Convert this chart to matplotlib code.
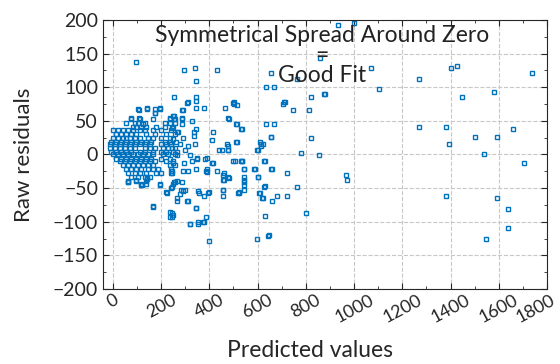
import matplotlib
matplotlib.use("Agg")
import matplotlib.pyplot as plt
import matplotlib.transforms as mtransforms
from matplotlib.ticker import MultipleLocator
import numpy as np

plt.rcParams['font.family'] = ['Lato', 'DejaVu Sans']

# dense cluster near zero, read row by row (residual: predicted values)
cluster_rows = {
    68: [104, 141, 174, 195],
    62: [174],
    53: [75, 112, 166, 237, 257],
    47: [54, 91, 104, 133, 216, 237, 257],
    41: [83, 95, 116, 137, 178, 216, 249],
    37: [0, 21, 42, 62, 83, 112, 133, 166, 199, 241],
    31: [12, 33, 54, 75, 95, 137, 174, 220, 257],
    25: [0, 21, 42, 54, 71, 91, 112, 145, 166, 199, 237],
    19: [-8, 12, 33, 54, 75, 95, 116, 137, 158, 216, 237, 261],
    15: [-12, 8, 29, 50, 71, 91, 112, 133, 154, 199, 220, 241],
    9: [-12, 8, 29, 50, 71, 91, 133, 154, 174, 208, 228, 257],
    4: [-8, 12, 33, 54, 75, 112, 133, 166, 199, 220, 249],
    0: [0, 21, 42, 62, 83, 104, 124, 145, 166, 208, 228, 257],
    -6: [12, 33, 54, 75, 95, 116, 137, 158, 199, 237],
    -10: [29, 50, 71, 91, 112, 133, 154, 174, 220, 249],
    -16: [42, 62, 83, 104, 124, 145, 166, 237, 257],
    -22: [54, 75, 95, 116, 145, 166, 187, 241],
    -28: [62, 91, 112, 137, 178, 199, 241],
    -34: [75, 104, 133, 154],
    -40: [62, 95, 137],
    -44: [116, 137, 195, 249],
}

pred_other = [95, 295, 340, 431, 344, 253, 344, 344, 311, 378, 344, 465, 108, 141, 195, 174,
              286, 502, 502, 75, 108, 124, 237, 249, 286, 328, 477, 510, 535, 344, 415, 635,
              668, 656, 705, 714, 747, 813, 822, 859, 656, 635, 763, 822, 855, 780, 614, 614,
              598, 473, 477, 510, 440, 411, 390, 348, 498, 535, 411, 390, 390, 431, 461, 461,
              477, 544, 544, 544, 585, 656, 627, 722, 763, 544, 544, 456, 519, 606, 623, 660,
              681, 722, 627, 394, 357, 307, 344, 266, 266, 224, 237, 237, 249, 166, 353, 353,
              319, 378, 386, 398, 598, 647, 801, 631, 299, 282, 253, 286, 195, 120, 62, 141,
              1070, 1104, 1270, 1402, 1427, 1448, 1581, 1738, 1270, 1382, 1394, 1502, 1593,
              1660, 1539, 1705, 967, 971, 1382, 1593, 1639, 1639, 1548, 934, 1000, 880,
              668, 875, 709, 531, 514, 656, 514, 610, 622, 602, 506, 535, 631, 544, 589, 660,
              602, 602, 631, 523, 610, 618, 643, 307, 498, 514, 290, 253, 253, 286, 481, 245,
              286, 336, 336, 270, 266, 249, 290, 278, 311, 340, 245, 266, 266, 299, 319, 348,
              382, 452, 477, 477, 415, 531, 249, 295, 328, 245, 245, 290, 311, 344, 386, 456,
              456, 481, 544, 266, 245, 290, 278, 311, 353, 378, 398, 456, 456, 523, 344, 245,
              245, 319, 374, 62, 95, 116, 141, 220, 241, 257, 166]
resid_other = [137, 125, 128, 125, 109, 85, 85, 80, 78, 69, 69, 69, 66, 69, 69, 62,
               66, 78, 75, 54, 54, 46, 54, 57, 54, 50, 54, 46, 38, 38, 34, 46,
               46, 26, 75, 78, 66, 66, 85, 144, 121, 101, 113, 24, -1, 2, 16, 13,
               7, 15, 7, 19, 7, 22, -5, -5, -10, -10, -13, -22, -26, -25, -28, -38,
               -34, -22, -34, -38, -22, -22, -10, -28, -49, -46, -53, -53, -57, -57, -65, -69,
               -62, -62, -49, -57, -57, -69, -80, -65, -69, -57, -85, -93, -90, -76, -100, -103,
               -103, -100, -93, -128, -125, -119, -87, -92, -53, -53, -41, -41, -46, -46, -41, -37,
               128, 97, 113, 128, 132, 85, 93, 121, 41, 41, 15, 26, 26,
               38, 1, -13, -30, -38, -62, -65, -81, -109, -125, 193, 196, 90,
               101, 90, 78, 38, 46, 26, 18, 18, 15, 7, -9, -9, -9, -21, -21, -21,
               -34, -34, -47, -57, -57, -65, -121, 76, 76, 73, 66, 57, 53, 53, 53, 40,
               46, 34, 28, 34, 34, 23, 25, 16, 13, 15, 9, 3, -1, 6, -1, -6,
               -6, 6, 13, 6, -13, -10, -12, -12, -10, -24, -28, -24, -24, -21, -24, -31,
               -38, -35, -41, -40, -49, -54, -59, -69, -54, -62, -56, -53, -62, -56, -79, -87,
               -93, -103, -100, -41, -38, -46, -35, -56, -50, -41, -78]

x_ticks = [0, 200, 400, 600, 800, 1000, 1200, 1400, 1600, 1800]
y_ticks = [-200, -150, -100, -50, 0, 50, 100, 150, 200]

pred = []
resid = []
for r, xs in cluster_rows.items():
    for p in xs:
        pred.append(p)
        resid.append(r)
pred += pred_other
resid += resid_other

fig = plt.figure(figsize=(5.6, 3.64), dpi=100)
ax = fig.add_axes([103/560, 1-289/364, 444/560, 269/364])

ax.plot(pred, resid, 's', ms=2.8, mfc='none', mec='#0072BD', mew=1.0, linestyle='none')

ax.set_xlim(-41, 1800)
ax.set_ylim(-200, 200)
ax.set_xticks(x_ticks)
ax.set_yticks(y_ticks)
ax.xaxis.set_minor_locator(MultipleLocator(100))
ax.yaxis.set_minor_locator(MultipleLocator(25))
ax.tick_params(which='both', direction='in', top=True, right=True, colors='#262626')
ax.tick_params(axis='y', labelsize=14)
ax.tick_params(axis='x', labelsize=13, pad=2)
ax.tick_params(which='major', length=4)
ax.tick_params(which='minor', length=2)
xlabels = ax.get_xticklabels()
for lab in xlabels:
    lab.set_rotation(28)
    lab.set_ha('center')
# last label sits a bit left of its tick, as in the original
xlabels[-1].set_transform(xlabels[-1].get_transform() +
                          mtransforms.ScaledTranslation(-8/72, 0, fig.dpi_scale_trans))
ax.grid(True, which='major', linestyle='--', color='#c8c8c8', linewidth=0.8)
for s in ax.spines.values():
    s.set_color('#262626')

ax.set_xlabel('Predicted values', fontsize=16.5, color='#262626')
ax.set_ylabel('Raw residuals', fontsize=16, color='#262626')
ax.xaxis.set_label_coords(0.466, -0.19)
ax.yaxis.set_label_coords(-0.155, 0.5)

ax.text(867, 192, 'Symmetrical Spread Around Zero\n=\nGood Fit', ha='center', va='top',
        fontsize=16.5, color='#222222', linespacing=0.92)

fig.savefig('out.png', dpi=100)
